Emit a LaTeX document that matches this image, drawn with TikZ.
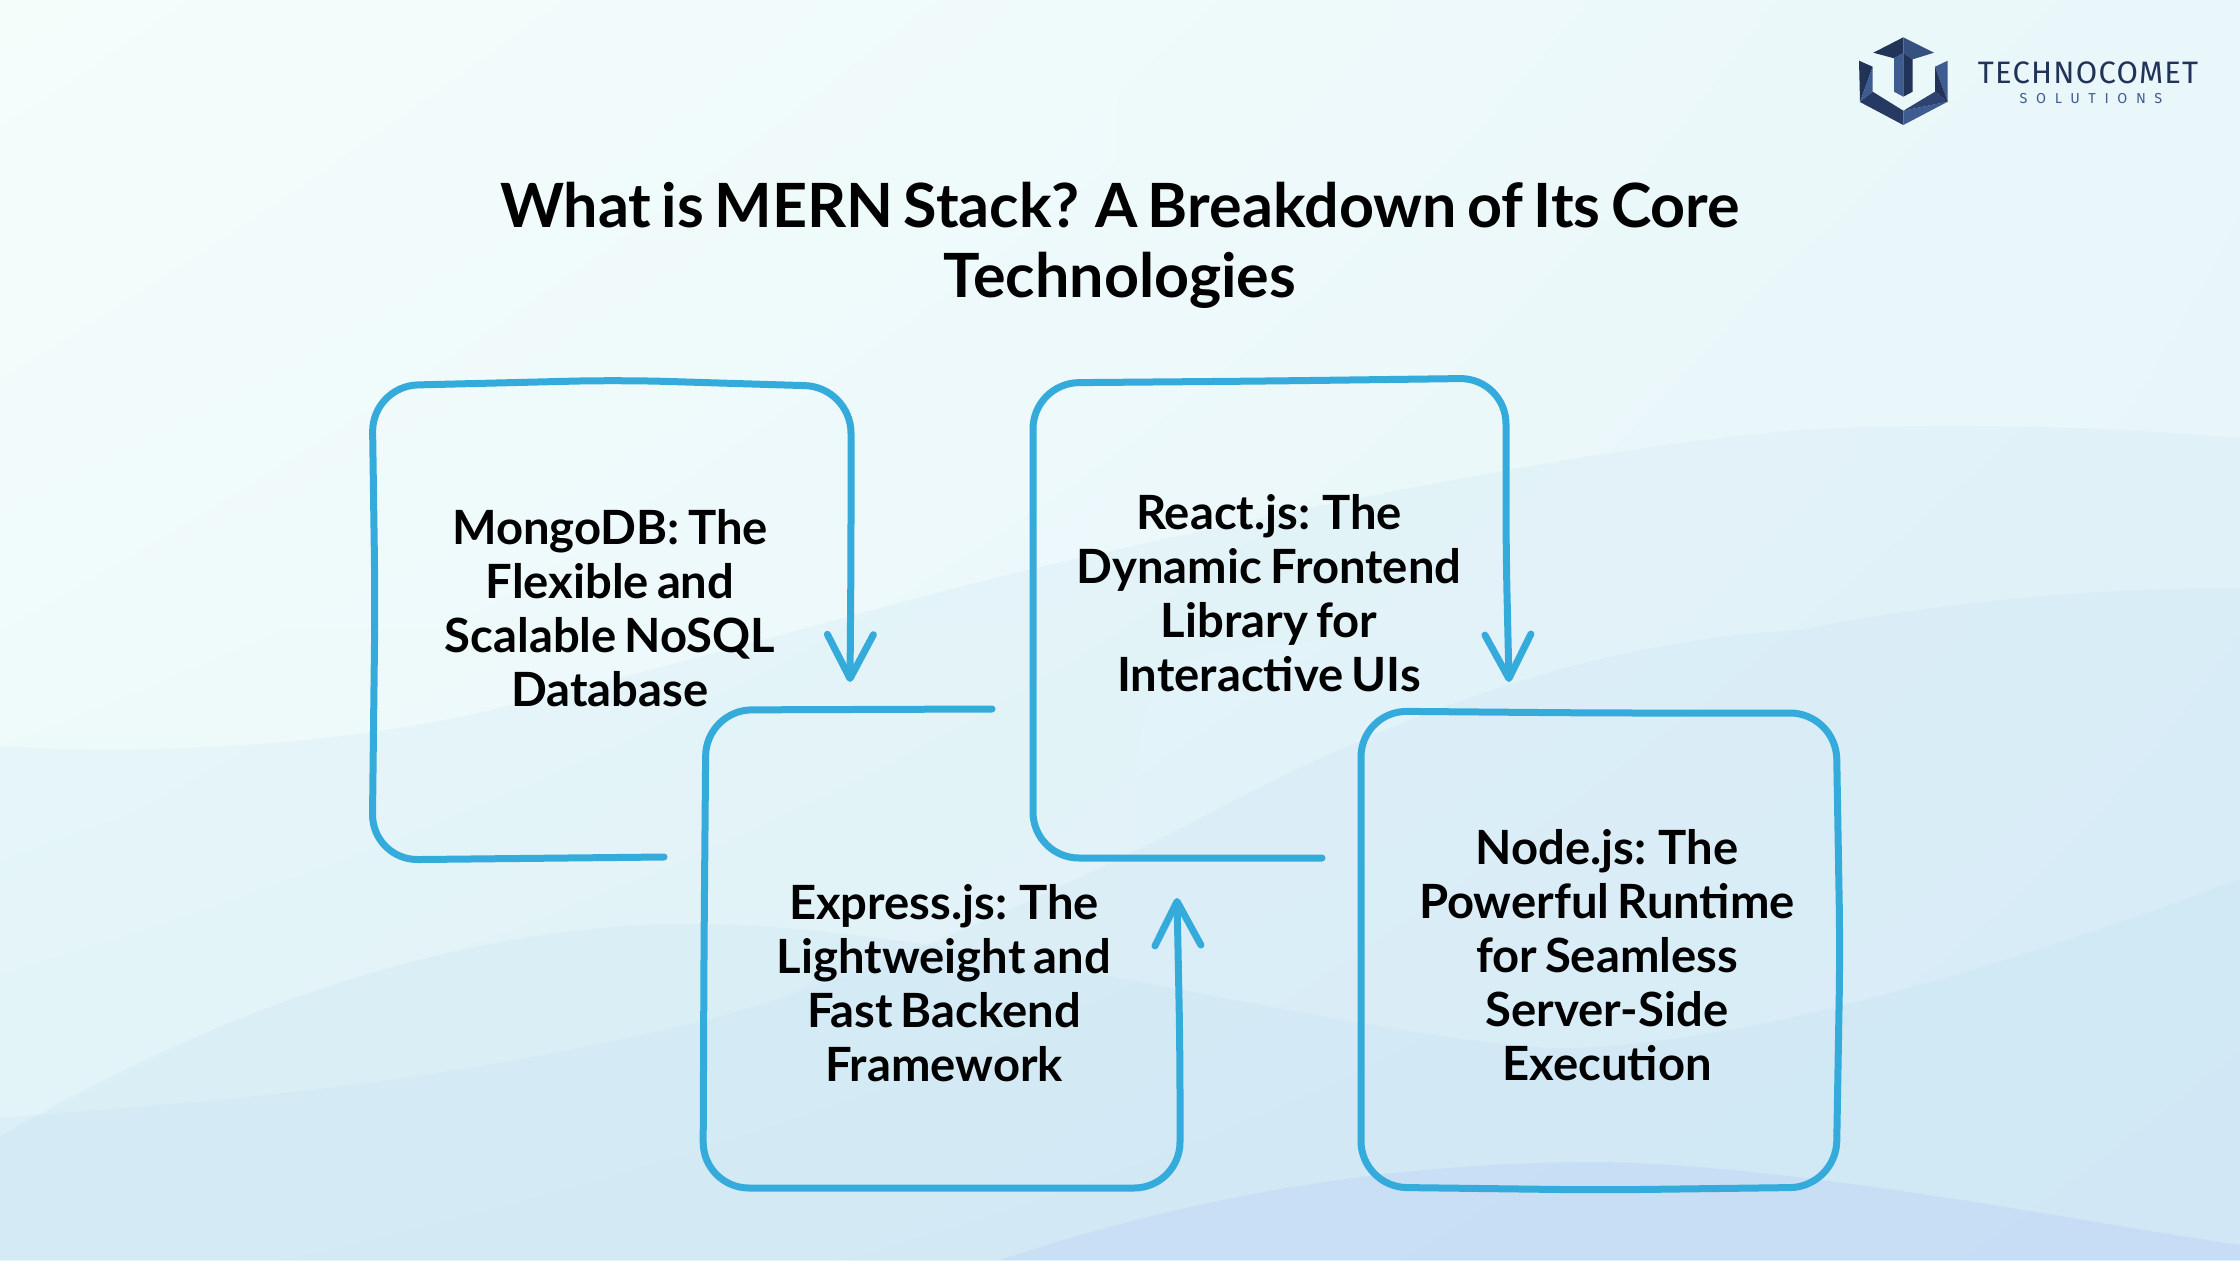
\documentclass[tikz,border=0pt]{standalone}
\usepackage{fontspec}
\setmainfont{Lato}[WordSpace=0.7]
\newfontfamily\logofont{Fira Sans}
\usetikzlibrary{arrows.meta}
\usetikzlibrary{shadings}
\definecolor{linecol}{HTML}{34ABDA}
\definecolor{wavecol}{HTML}{A9D3EF}
\definecolor{wavetop}{HTML}{B9D0F5}
\definecolor{navy}{HTML}{22335A}
\definecolor{steel}{HTML}{3F5C90}
\definecolor{bgul}{HTML}{F5FDFB}
\definecolor{bgur}{HTML}{E9F7FA}
\definecolor{bgll}{HTML}{EAF8FA}
\definecolor{bglr}{HTML}{E6F4FB}
\tikzset{
	edge/.style={line width=3.5pt,draw=linecol,line cap=round,rounded corners=23pt,-{Straight Barb[round,length=22pt,width=23pt,line width=3.5pt]}},
	frame/.style={line width=3.5pt,draw=linecol,rounded corners=23pt},
	label/.style={align=center,font=\fontsize{23.6}{27}\selectfont\bfseries,text=black,inner sep=0pt},
	wave/.style={fill=wavecol,draw=none}
}

\begin{document}
\begin{tikzpicture}[x=0.5pt,y=-0.5pt]
	\useasboundingbox (0,0) rectangle (2240,1260);
	% background
	\shade[upper left=bgul,upper right=bgur,lower left=bgll,lower right=bglr] (0,0) rectangle (2240,1260);
	\begin{scope}
		\clip (0,0) rectangle (2240,1260);
		\fill[wave,opacity=.12] (0,746) .. controls (150,756) and (370,745) .. (521,702) .. controls (700,660) and (900,600) .. (1028,570) .. controls (1200,530) and (1600,440) .. (1834,428) .. controls (2000,422) and (2150,430) .. (2240,438) -- (2240,1260) -- (0,1260) -- cycle;
		\fill[wave,opacity=.12] (0,1118) .. controls (150,1104) and (400,1095) .. (714,1018) .. controls (850,980) and (1000,920) .. (1191,823) .. controls (1400,710) and (1600,640) .. (1799,630) .. controls (1950,600) and (2100,588) .. (2240,588) -- (2240,1260) -- (0,1260) -- cycle;
		\fill[wave,opacity=.13] (0,1136) .. controls (100,1080) and (350,940) .. (643,925) .. controls (900,910) and (1300,1030) .. (1549,1048) .. controls (1750,1050) and (2050,950) .. (2240,879) -- (2240,1260) -- (0,1260) -- cycle;
		\fill[wavetop,opacity=.4] (1000,1260) .. controls (1150,1210) and (1350,1162) .. (1600,1162) .. controls (1800,1165) and (2100,1225) .. (2240,1245) -- (2240,1260) -- cycle;
	\end{scope}

	% logo
	\fill[navy] (1859,60.7) -- (1872.7,66.7) -- (1860,102) -- cycle;
	\fill[steel] (1872.7,66.7) -- (1872.7,91.7) -- (1860,102) -- cycle;
	\fill[navy!85!steel] (1860,102) -- (1872.7,91.7) -- (1903.3,110.7) -- (1903.3,125) -- cycle;
	\fill[steel] (1903.3,110.7) -- (1903.3,125) -- (1947.7,101.7) -- cycle;
	\fill[navy!60!steel] (1903.3,110.7) -- (1935,91.7) -- (1947.7,101.7) -- cycle;
	\fill[steel] (1935,66.7) -- (1947.7,60.7) -- (1947.7,101.7) -- cycle;
	\fill[navy] (1935,66.7) -- (1935,91.7) -- (1947.7,101.7) -- cycle;
	\fill[navy] (1903.3,37.3) -- (1873.3,52.7) -- (1894,58.3) -- (1903.3,53) -- cycle;
	\fill[steel!70!navy] (1903.3,37.3) -- (1934,52.7) -- (1912.7,59.3) -- (1903.3,53) -- cycle;
	\fill[steel] (1894,58.3) -- (1903.3,53) -- (1903.3,96.7) -- (1894,91.7) -- cycle;
	\fill[navy] (1912.7,59.3) -- (1903.3,53) -- (1903.3,96.7) -- (1912.7,91.7) -- cycle;
	\node[inner sep=0pt,text=navy,font=\logofont\fontsize{15.5}{17}\selectfont\addfontfeature{LetterSpace=4}] (brand) at (2088,73) {TECHNOCOMET};
	\node[inner sep=0pt,text=steel,font=\logofont\fontsize{7.2}{9}\selectfont\addfontfeature{LetterSpace=60}] (sub) at (2091,99) {SOLUTIONS};

	% title
	\node[align=center,inner sep=0pt,font=\fontsize{30.5}{35}\selectfont\bfseries] (title) at (1120,245) {What is MERN Stack? A Breakdown of Its Core\\Technologies};

	% labels
	\node[label] (mongo) at (610,608) {MongoDB: The\\Flexible and\\Scalable NoSQL\\Database};
	\node[label] (express) at (944,983) {Express.js: The\\Lightweight and\\Fast Backend\\Framework};
	\node[label] (react) at (1269,593) {React.js: The\\Dynamic Frontend\\Library for\\Interactive UIs};
	\node[label] (nodejs) at (1607,955) {Node.js: The\\Powerful Runtime\\for Seamless\\Server-Side\\Execution};

	% free ends of the loops
	\coordinate (mongoEnd) at (664,857);
	\coordinate (mongoTip) at (850,682);
	\coordinate (expressEnd) at (992,709);
	\coordinate (expressTip) at (1177,898);
	\coordinate (reactEnd) at (1322,858);
	\coordinate (reactTip) at (1509,682);

	\draw[edge] (mongoEnd) -- (372,860) -- (375,600) -- (372,386) -- (620,380) -- (851,387) -- (851,560) -- (mongoTip);
	\draw[edge] (expressEnd) -- (706,710) -- (704,950) -- (703,1188) -- (940,1188) -- (1180,1188) -- (1180,1050) -- (expressTip);
	\draw[edge] (reactEnd) -- (1033,858) -- (1033,620) -- (1033,383) -- (1270,381) -- (1506,378) -- (1506,550) -- (reactTip);
	\draw[frame] (1361,711) -- (1600,713) -- (1836,713) -- (1840,950) -- (1836,1187) -- (1600,1190) -- (1361,1187) -- cycle;
\end{tikzpicture}
\end{document}
